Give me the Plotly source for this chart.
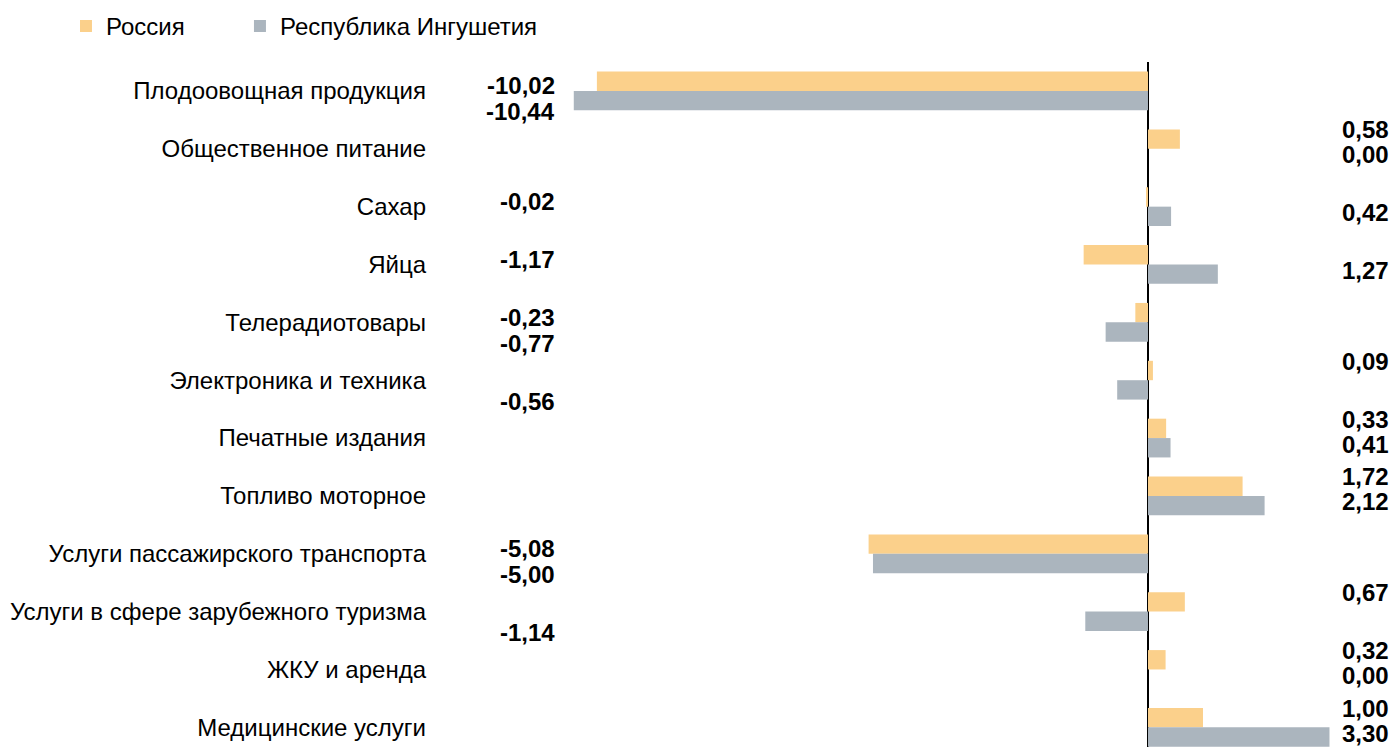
import plotly.graph_objects as go

categories = [
    "Плодоовощная продукция",
    "Общественное питание",
    "Сахар",
    "Яйца",
    "Телерадиотовары",
    "Электроника и техника",
    "Печатные издания",
    "Топливо моторное",
    "Услуги пассажирского транспорта",
    "Услуги в сфере зарубежного туризма",
    "ЖКУ и аренда",
    "Медицинские услуги",
]
russia = [-10.02, 0.58, -0.02, -1.17, -0.23, 0.09, 0.33, 1.72, -5.08, 0.67, 0.32, 1.00]
ingushetia = [-10.44, 0.00, 0.42, 1.27, -0.77, -0.56, 0.41, 2.12, -5.00, -1.14, 0.00, 3.30]
series_names = ["Россия", "Республика Ингушетия"]
colors = ["#FBD08B", "#ABB5BE"]

FONT = "Arial, Liberation Sans, sans-serif"
FS = 24

fig = go.Figure()
for name, vals, col, lg in zip(series_names, [russia, ingushetia], colors, ["legend", "legend2"]):
    fig.add_trace(go.Bar(
        y=categories, x=vals, name=name, orientation="h",
        marker=dict(color=col, line=dict(width=0)),
        hoverinfo="x+name", legend=lg,
    ))

def fmt(v):
    return f"{v:.2f}".replace(".", ",")

LEFT_X = -10.745
RIGHT_X = 4.42
for i, cat in enumerate(categories):
    for k, v in enumerate([russia[i], ingushetia[i]]):
        if v < 0:
            x = LEFT_X
            ys = 5 if k == 0 else -21
        else:
            x = RIGHT_X
            ys = 19 if k == 0 else -6
        fig.add_annotation(
            x=x, y=cat, xref="x", yref="y", text=fmt(v), showarrow=False,
            xanchor="right", yanchor="middle", yshift=ys,
            font=dict(family=FONT, size=FS, color="black", weight="bold"),
        )

legend_common = dict(
    orientation="h", xanchor="left", y=1.052, yanchor="middle",
    font=dict(family=FONT, size=FS, color="black"),
    bgcolor="rgba(0,0,0,0)",
)

fig.update_layout(
    width=1394, height=747,
    margin=dict(l=437, r=0, t=62, b=0),
    barmode="group", bargap=0.33, bargroupgap=0,
    plot_bgcolor="white", paper_bgcolor="white",
    font=dict(family=FONT, size=FS, color="black"),
    showlegend=True,
    legend=dict(x=-0.3877, **legend_common),
    legend2=dict(x=-0.2059, **legend_common),
    xaxis=dict(
        range=[-12.927, 4.473], showgrid=False, showticklabels=False,
        zeroline=True, zerolinecolor="black", zerolinewidth=1.5,
        showline=False, ticks="",
    ),
    yaxis=dict(
        type="category", categoryorder="array", categoryarray=categories,
        range=[11.34, -0.5], showgrid=False, zeroline=False, showline=False,
        ticks="", ticklabelstandoff=10,
        tickfont=dict(family=FONT, size=FS, color="black"),
    ),
)

fig.write_html("out.html", config={"displayModeBar": False},
               post_script="document.body.style.margin='0';")
